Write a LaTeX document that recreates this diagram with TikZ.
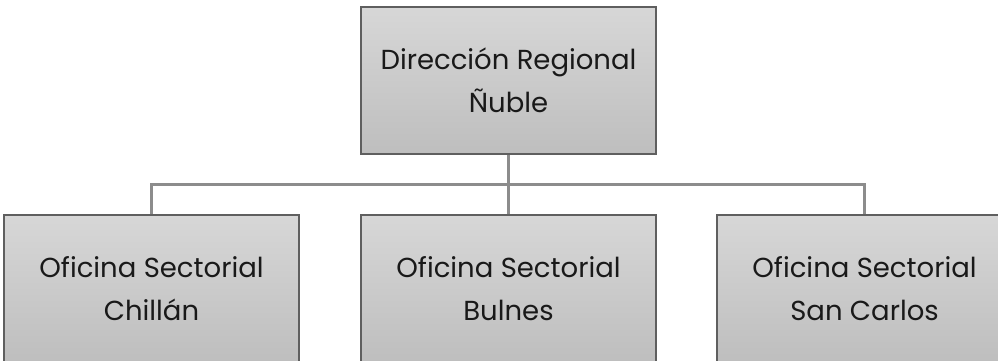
\documentclass[tikz,border=0pt]{standalone}
\usepackage{fontspec}
\setmainfont{Poppins}
\definecolor{boxtop}{RGB}{215,215,215}
\definecolor{boxbot}{RGB}{190,190,190}
\definecolor{boxline}{RGB}{95,95,95}
\definecolor{conn}{RGB}{140,140,140}
\begin{document}
\begin{tikzpicture}[x=1pt,y=-1pt,
  orgbox/.style={draw=boxline, line width=1.5pt, top color=boxtop, bottom color=boxbot,
    minimum width=295pt, minimum height=147pt, inner sep=0pt, align=center,
    font=\fontsize{27.5}{43}\selectfont, text=black!90},
  link/.style={draw=conn, line width=3pt}]
\useasboundingbox (0,0) rectangle (998,360);
\begin{scope}
\clip (0,0) rectangle (998,360);
\node[orgbox] (top) at (508.5,80.5) {Dirección Regional\\Ñuble};
\node[orgbox] (chi) at (151.5,288.5) {Oficina Sectorial\\Chillán};
\node[orgbox] (bul) at (508.5,288.5) {Oficina Sectorial\\Bulnes};
\node[orgbox] (san) at (864.5,288.5) {Oficina Sectorial\\San Carlos};
\coordinate (bar) at (508.5,184);
\draw[link] (top.south) -- (bul.north);
\draw[link] (chi.north) |- (bar) -| (san.north);
\end{scope}
\end{tikzpicture}
\end{document}
